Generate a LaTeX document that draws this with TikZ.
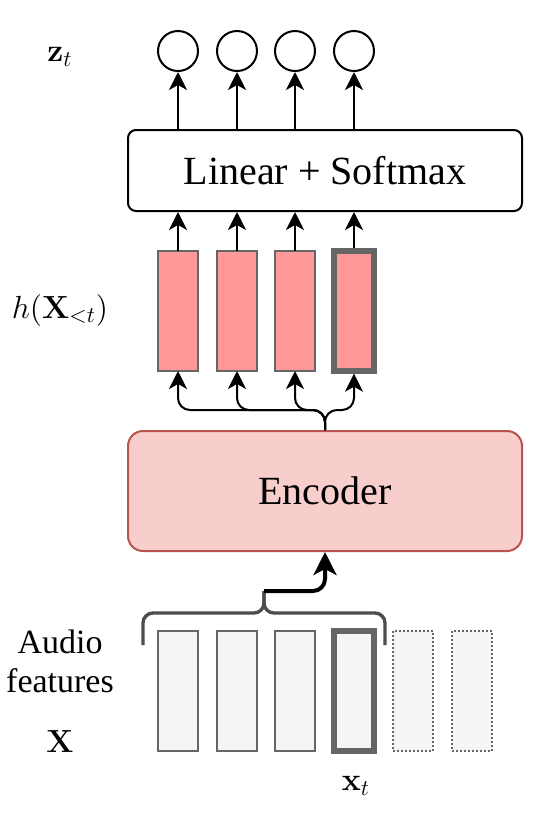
\RequirePackage{fix-cm}
\documentclass[tikz,border=0pt]{standalone}
\usepackage[no-math]{fontspec}
\setmainfont{Liberation Serif}
\usetikzlibrary{arrows.meta}
\definecolor{hidfill}{HTML}{FF9999}
\definecolor{barline}{HTML}{666666}
\definecolor{featfill}{HTML}{F5F5F5}
\definecolor{encfill}{HTML}{F8CECC}
\definecolor{encline}{HTML}{B85450}
\definecolor{bracegray}{HTML}{4D4D4D}
\begin{document}
\begin{tikzpicture}[x=0.5pt,y=-0.5pt,
    bar/.style={draw=barline,line width=1pt,minimum width=20pt,minimum height=60pt,inner sep=0pt,outer sep=0pt},
    hid/.style={bar,fill=hidfill},
    feat/.style={bar,fill=featfill},
    cur/.style={line width=2.7pt,outer sep=1.35pt},
    future/.style={dash pattern=on 1pt off 1pt},
    outnode/.style={circle,draw,line width=1pt,minimum size=20pt,inner sep=0pt},
    block/.style={draw,line width=1pt,rounded corners=4pt,minimum width=197pt,minimum height=40.5pt,font=\fontsize{20}{24}\selectfont},
    lab/.style={font=\fontsize{16}{19}\selectfont},
    arr/.style={-{Stealth[length=9pt,width=9pt,inset=2.5pt]},line width=1pt},
    bigarr/.style={-{Stealth[length=11.5pt,width=11.5pt,inset=3pt]},line width=2pt,rounded corners=6pt},
    brace/.style={draw=bracegray,line width=1.7pt,rounded corners=5pt}]
      \useasboundingbox (0,0) rectangle (532,832);
      \node[outnode] (z1) at (178,51) {};
      \node[outnode] (z2) at (237,51) {};
      \node[outnode] (z3) at (295,51) {};
      \node[outnode] (z4) at (354,51) {};
      \node[block] (lin) at (325,170.5) {Linear + Softmax};
      \node[hid] (h1) at (178,311) {};
      \node[hid] (h2) at (237,311) {};
      \node[hid] (h3) at (295,311) {};
      \node[hid,cur] (h4) at (354,311) {};
      \node[block,draw=encline,fill=encfill,rounded corners=7.5pt,minimum height=60pt] (enc) at (325,491) {Encoder};
      \node[feat] (x1) at (178,691) {};
      \node[feat] (x2) at (237,691) {};
      \node[feat] (x3) at (295,691) {};
      \node[feat,cur] (x4) at (354,691) {};
      \node[feat,future] (x5) at (413,691) {};
      \node[feat,future] (x6) at (472,691) {};
      \node[lab] (zlab) at (60,57) {$\mathbf{z}_t$};
      \node[lab] (hlab) at (60,310) {$h(\mathbf{X}_{<t})$};
      \node[align=center,font=\fontsize{17}{19.5}\selectfont] (audio) at (60,661) {Audio\\features};
      \node[lab] (xlab) at (60,742) {$\mathbf{X}$};
      \node[lab] (xtlab) at (356,786) {$\mathbf{x}_t$};
      \coordinate (tip) at (264,591);
      \draw[brace] (143,645) |- (264,613) -- (tip);
      \draw[brace] (385,645) |- (264,613) -- (tip);
      \begin{scope}[arr]
        \draw (z1 |- lin.north) to (z1);
        \draw (z2 |- lin.north) to (z2);
        \draw (z3 |- lin.north) to (z3);
        \draw (z4 |- lin.north) to (z4);
        \draw (h1.north) to (h1.north |- lin.south);
        \draw (h2.north) to (h2.north |- lin.south);
        \draw (h3.north) to (h3.north |- lin.south);
        \draw (h4.north) to (h4.north |- lin.south);
      \end{scope}
      \begin{scope}[arr,rounded corners=6pt]
        \draw (enc.north) -- ++(0,-20) -| (h1.south);
        \draw (enc.north) -- ++(0,-20) -| (h2.south);
        \draw (enc.north) -- ++(0,-20) -| (h3.south);
        \draw (enc.north) -- ++(0,-20) -| (h4.south);
      \end{scope}
      \draw[bigarr] (tip) -| (enc.south);
\end{tikzpicture}
\end{document}
